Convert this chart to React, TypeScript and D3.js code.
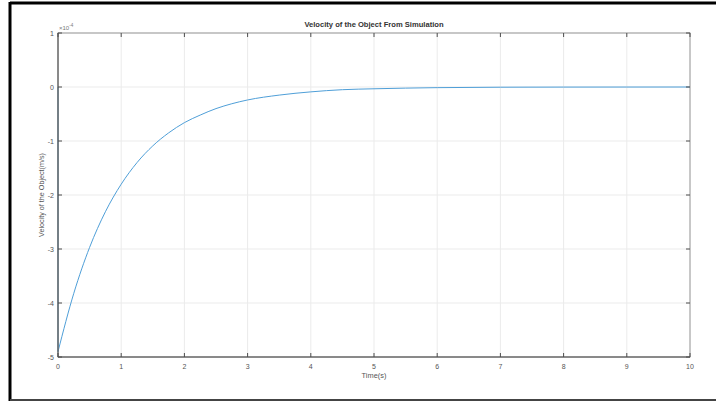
import React, { useEffect, useRef } from "react";
import * as d3 from "d3";

// tiempo (s) y velocidad (x1e-4 m/s)
const timeValues = [0, 0, 0.25, 0.5, 0.75, 1, 1.25, 1.5, 1.75, 2, 2.25, 2.5, 2.75, 3, 3.5, 4, 4.5, 5, 6, 7, 8, 9, 10];
const velocityValues = [0, -4.9, -3.82, -2.97, -2.31, -1.8, -1.4, -1.09, -0.85, -0.66, -0.52, -0.4, -0.31, -0.24, -0.15, -0.09, -0.05, -0.033, -0.012, -0.004, -0.0016, -0.0006, -0.0002];
const xTicks = [0, 1, 2, 3, 4, 5, 6, 7, 8, 9, 10];
const yTicks = [1, 0, -1, -2, -3, -4, -5];

const App = () => {
    const svgRef = useRef<SVGSVGElement>(null);

    useEffect(() => {
        const width = 716;
        const height = 402;
        const margin = { left: 58, right: 26, top: 33, bottom: 45 };

        const svg = d3.select(svgRef.current);
        svg.selectAll("*").remove();
        svg.attr("width", width).attr("height", height);

        svg.append("rect").attr("width", width).attr("height", height).attr("fill", "#fff");

        const x = d3.scaleLinear().domain([0, 10]).range([margin.left, width - margin.right]);
        const y = d3.scaleLinear().domain([-5, 1]).range([height - margin.bottom, margin.top]);
        const font = "Liberation Sans, Arial, sans-serif";
        const axisColor = "#4d4d4d";

        // rejilla
        svg.append("g").selectAll("line").data(xTicks).join("line")
            .attr("x1", d => x(d)).attr("x2", d => x(d))
            .attr("y1", y(1)).attr("y2", y(-5))
            .attr("stroke", "#ebebeb").attr("stroke-width", 1);
        svg.append("g").selectAll("line").data(yTicks).join("line")
            .attr("x1", x(0)).attr("x2", x(10))
            .attr("y1", d => y(d)).attr("y2", d => y(d))
            .attr("stroke", "#ebebeb").attr("stroke-width", 1);

        // curva: el salto inicial en t=0 es recto, el resto suavizado
        const points = timeValues.map((t, i) => [t, velocityValues[i]] as [number, number]);
        const straight = d3.line<[number, number]>().x(d => x(d[0])).y(d => y(d[1]));
        const smooth = d3.line<[number, number]>()
            .x(d => x(d[0]))
            .y(d => y(d[1]))
            .curve(d3.curveMonotoneX);
        const curveColor = "#4f9fd8";
        svg.append("path")
            .datum(points.slice(0, 2))
            .attr("d", straight)
            .attr("fill", "none").attr("stroke", curveColor).attr("stroke-width", 1);
        svg.append("path")
            .datum(points.slice(1))
            .attr("d", smooth)
            .attr("fill", "none").attr("stroke", curveColor).attr("stroke-width", 1);

        // caja de ejes
        svg.append("rect")
            .attr("x", x(0)).attr("y", y(1))
            .attr("width", x(10) - x(0)).attr("height", y(-5) - y(1))
            .attr("fill", "none").attr("stroke", "#9a9a9a").attr("stroke-width", 1);
        svg.append("line").attr("x1", x(0)).attr("x2", x(10)).attr("y1", y(-5)).attr("y2", y(-5)).attr("stroke", axisColor);
        svg.append("line").attr("x1", x(0)).attr("x2", x(0)).attr("y1", y(1)).attr("y2", y(-5)).attr("stroke", axisColor);

        // marcas
        const tickLen = 4;
        const ticks = svg.append("g").attr("stroke", axisColor);
        xTicks.forEach(t => {
            ticks.append("line").attr("x1", x(t)).attr("x2", x(t)).attr("y1", y(-5)).attr("y2", y(-5) - tickLen);
            ticks.append("line").attr("x1", x(t)).attr("x2", x(t)).attr("y1", y(1)).attr("y2", y(1) + tickLen);
        });
        yTicks.forEach(t => {
            ticks.append("line").attr("x1", x(0)).attr("x2", x(0) + tickLen).attr("y1", y(t)).attr("y2", y(t));
            ticks.append("line").attr("x1", x(10)).attr("x2", x(10) - tickLen).attr("y1", y(t)).attr("y2", y(t));
        });

        // etiquetas de marcas
        svg.append("g").selectAll("text").data(xTicks).join("text")
            .attr("x", d => x(d)).attr("y", y(-5) + 12)
            .attr("text-anchor", "middle")
            .attr("font-family", font).attr("font-size", 7).attr("fill", "#555")
            .text(d => d);
        svg.append("g").selectAll("text").data(yTicks).join("text")
            .attr("x", x(0) - 4).attr("y", d => y(d) + 2.5)
            .attr("text-anchor", "end")
            .attr("font-family", font).attr("font-size", 7).attr("fill", "#555")
            .text(d => d);

        // multiplicador
        const mult = svg.append("text")
            .attr("x", x(0) + 1).attr("y", y(1) - 3)
            .attr("font-family", font).attr("font-size", 6).attr("fill", "#777");
        mult.append("tspan").text("\u00d710");
        mult.append("tspan").attr("dy", -3).attr("font-size", 4.5).text("-4");

        // títulos
        svg.append("text")
            .attr("x", (x(0) + x(10)) / 2).attr("y", 27)
            .attr("text-anchor", "middle")
            .attr("font-family", font).attr("font-size", 7.6).attr("font-weight", "bold").attr("fill", "#333")
            .text("Velocity of the Object From Simulation");
        svg.append("text")
            .attr("x", (x(0) + x(10)) / 2).attr("y", y(-5) + 21)
            .attr("text-anchor", "middle")
            .attr("font-family", font).attr("font-size", 7.4).attr("fill", "#555")
            .text("Time(s)");
        svg.append("text")
            .attr("transform", `translate(44,${(y(1) + y(-5)) / 2}) rotate(-90)`)
            .attr("text-anchor", "middle")
            .attr("font-family", font).attr("font-size", 7.2).attr("fill", "#555")
            .text("Velocity of the Object(m/s)");

        // marco de la imagen
        svg.append("line").attr("x1", 10).attr("x2", width).attr("y1", 3).attr("y2", 3).attr("stroke", "#000").attr("stroke-width", 3);
        svg.append("line").attr("x1", 10).attr("x2", 10).attr("y1", 2).attr("y2", 401).attr("stroke", "#000").attr("stroke-width", 3);
        svg.append("line").attr("x1", 10).attr("x2", width).attr("y1", 400).attr("y2", 400).attr("stroke", "#444").attr("stroke-width", 2);
    }, []);

    return <svg ref={svgRef} style={{ position: "absolute", left: 0, top: 0 }}></svg>;
};

export default App;
